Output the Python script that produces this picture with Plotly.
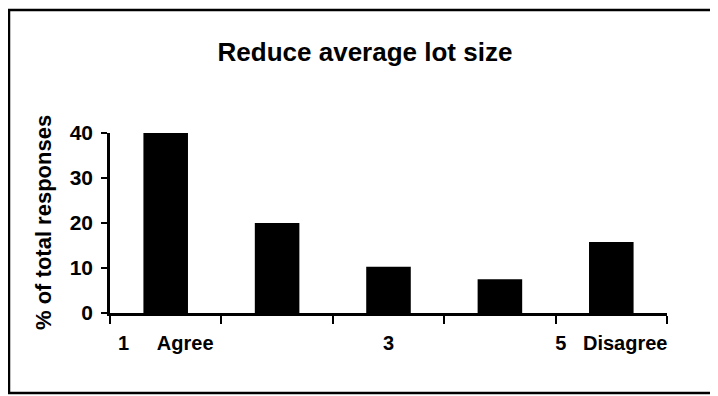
import plotly.graph_objects as go

categories = ["1", "2", "3", "4", "5"]
tick_labels = ["1\u00a0\u00a0\u00a0\u00a0\u00a0Agree", "", "3", "", "5\u00a0\u00a0\u00a0Disagree"]
values = [40, 20, 10.3, 7.5, 15.8]
y_ticks = [0, 10, 20, 30, 40]

title_text = "Reduce average lot size"
y_title = "% of total responses"

FONT = "Liberation Sans, Arial, sans-serif"

# plot area in figure pixels
PL, PR, PT, PB = 102, 659, 125, 305
PW, PH = PR - PL, PB - PT

fig = go.Figure(
    go.Bar(x=categories, y=values, marker=dict(color="black", line=dict(width=0)), width=0.4)
)

fig.update_layout(
    width=718,
    height=396,
    margin=dict(l=PL, r=718 - PR, t=PT, b=396 - PB, autoexpand=False),
    paper_bgcolor="white",
    plot_bgcolor="white",
    showlegend=False,
    font=dict(family=FONT, color="black"),
    title=dict(
        text="<b>" + title_text + "</b>",
        font=dict(size=26, family=FONT, color="black"),
        x=(357 - PL) / PW,
        xref="paper",
        xanchor="center",
        y=1 - 44 / 396,
        yref="container",
        yanchor="middle",
    ),
)

fig.update_xaxes(
    type="category",
    range=[-0.5, 4.5],
    tickmode="array",
    tickvals=categories,
    ticktext=["<b>" + t + "</b>" if t else "" for t in tick_labels],
    tickson="boundaries",
    ticks="outside",
    ticklen=8,
    tickwidth=2,
    tickcolor="black",
    tickangle=0,
    automargin=False,
    showline=True,
    linecolor="black",
    linewidth=2.5,
    showgrid=False,
    zeroline=False,
    tickfont=dict(size=20, family=FONT, color="black"),
    ticklabelstandoff=10,
)

fig.update_yaxes(
    range=[0, 40],
    tickmode="array",
    tickvals=y_ticks,
    ticktext=["<b>%d</b>" % v for v in y_ticks],
    ticks="outside",
    ticklen=6,
    tickwidth=2,
    tickcolor="black",
    automargin=False,
    showline=True,
    linecolor="black",
    linewidth=2.5,
    showgrid=False,
    zeroline=False,
    tickfont=dict(size=21, family=FONT, color="black"),
    ticklabelstandoff=4,
)

fig.add_annotation(
    text="<b>" + y_title + "</b>",
    textangle=-90,
    xref="paper",
    yref="paper",
    x=(35 - PL) / PW,
    y=0.5,
    xanchor="center",
    yanchor="middle",
    showarrow=False,
    font=dict(size=22, family=FONT, color="black"),
)

# outer frame of the figure
fig.add_shape(
    type="rect",
    xref="paper",
    yref="paper",
    x0=(1 - PL) / PW,
    x1=(730 - PL) / PW,
    y0=(PB - 385) / PH,
    y1=(PB - 2) / PH,
    line=dict(color="black", width=2.5),
    fillcolor="rgba(0,0,0,0)",
    layer="above",
)

fig.write_html("out.html")
